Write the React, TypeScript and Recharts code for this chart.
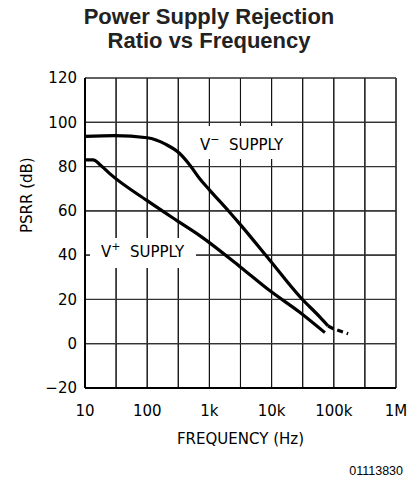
import React from 'react';
import { LineChart, Line, XAxis, YAxis, CartesianGrid } from 'recharts';

// grid lines every half decade, labels only on decades
const FREQ_TICKS = [10, 31.6, 100, 316, 1000, 3160, 10000, 31600, 100000, 316000, 1000000];
const FREQ_LABELS: Record<number, string> = { 10: '10', 100: '100', 1000: '1k', 10000: '10k', 100000: '100k', 1000000: '1M' };
const PSRR_TICKS = [-20, 0, 20, 40, 60, 80, 100, 120];

const VPLUS_FREQ = [10, 13.5, 18, 25, 100, 300, 700, 3100, 9300, 29000, 72000];
const VPLUS_PSRR = [83, 83, 80.5, 76.8, 64.6, 55.6, 48.8, 34.8, 24, 14, 5];

const VMINUS_FREQ = [10, 30, 100, 200, 330, 490, 700, 1000, 2100, 3100, 9300, 29000, 60000, 81000];
const VMINUS_PSRR = [93.6, 94, 93, 90, 86, 80.5, 74.5, 69.5, 59.5, 54, 37.8, 21, 12, 8];

// extrapolated part, drawn dashed
const VMINUS_EXT_FREQ = [81000, 98000, 170000];
const VMINUS_EXT_PSRR = [8, 6.8, 4.5];

// one table keyed by frequency, gaps left empty
function buildData() {
    const rows = new Map<number, any>();
    const put = (f: number[], v: number[], key: string) =>
        f.forEach((x, i) => {
            const r = rows.get(x) ?? { f: x };
            r[key] = v[i];
            rows.set(x, r);
        });
    put(VPLUS_FREQ, VPLUS_PSRR, 'vplus');
    put(VMINUS_FREQ, VMINUS_PSRR, 'vminus');
    put(VMINUS_EXT_FREQ, VMINUS_EXT_PSRR, 'vext');
    return [...rows.values()].sort((a, b) => a.f - b.f);
}

const data = buildData();
const FONT = 'DejaVu Sans';
const F_MIN = FREQ_TICKS[0];
const F_MAX = FREQ_TICKS[FREQ_TICKS.length - 1];
const P_MIN = PSRR_TICKS[0];
const P_MAX = PSRR_TICKS[PSRR_TICKS.length - 1];

// white box over the grid with the curve name in it
function SupplyBox({ left, top, width, height, padLeft, padTop, sign }: any) {
    return (
        <div
            style={{
                position: 'absolute', left, top, width, height, background: '#fff', boxSizing: 'border-box',
                paddingLeft: padLeft, paddingTop: padTop, fontFamily: FONT, fontSize: 15, lineHeight: '17px',
                color: '#000', whiteSpace: 'nowrap',
            }}
        >
            V<span style={{ position: 'relative', top: -7, fontSize: 11 }}>{sign}</span>{'\u00a0 SUPPLY'}
        </div>
    );
}

export default function App() {
    return (
        <div style={{ position: 'absolute', left: 0, top: 0, width: 412, height: 481, background: '#fff' }}>
            <div
                style={{
                    position: 'absolute', left: 0, top: 5, width: 418, textAlign: 'center',
                    fontFamily: 'Liberation Sans', fontWeight: 'bold', fontSize: 22, lineHeight: '24px', color: '#222',
                }}
            >
                Power Supply Rejection<br />Ratio vs Frequency
            </div>
            <LineChart width={412} height={481} data={data} margin={{ top: 78, right: 16, bottom: 33, left: 27 }}>
                <CartesianGrid stroke="#222" strokeWidth={1.1} />
                <XAxis
                    dataKey="f"
                    type="number"
                    scale="log"
                    domain={[F_MIN, F_MAX]}
                    ticks={FREQ_TICKS}
                    interval={0}
                    tickFormatter={(v: number) => FREQ_LABELS[v] ?? ''}
                    height={60}
                    axisLine={{ stroke: '#000', strokeWidth: 2 }}
                    tickLine={false}
                    tickSize={8}
                    tickMargin={9}
                    tick={{ fontFamily: FONT, fontSize: 15, fill: '#000' }}
                    label={{ value: 'FREQUENCY (Hz)', position: 'insideBottom', offset: 4, fontFamily: FONT, fontSize: 15, fill: '#000' }}
                />
                <YAxis
                    type="number"
                    domain={[P_MIN, P_MAX]}
                    ticks={PSRR_TICKS}
                    interval={0}
                    tickFormatter={(v: number) => String(v).replace('-', '\u2212')}
                    width={58}
                    axisLine={{ stroke: '#000', strokeWidth: 2 }}
                    tickLine={false}
                    tickSize={8}
                    tickMargin={0}
                    tick={{ fontFamily: FONT, fontSize: 15, fill: '#000' }}
                    label={{ value: 'PSRR (dB)', angle: -90, position: 'insideLeft', offset: 0, fontFamily: FONT, fontSize: 15, fill: '#000' }}
                />
                {/* grid drawn as thin series along the tick values */}
                {FREQ_TICKS.slice(1).map((t) => (
                    <Line key={'gv' + t} data={[{ f: t, g: P_MIN }, { f: t, g: P_MAX }]} dataKey="g" type="linear"
                        stroke="#111" strokeWidth={1} dot={false} activeDot={false} isAnimationActive={false} />
                ))}
                {PSRR_TICKS.slice(1).map((t) => (
                    <Line key={'gh' + t} data={[{ f: F_MIN, g: t }, { f: F_MAX, g: t }]} dataKey="g" type="linear"
                        stroke="#333" strokeWidth={1.2} dot={false} activeDot={false} isAnimationActive={false} />
                ))}
                <Line dataKey="vminus" type="monotone" connectNulls stroke="#000" strokeWidth={3.2} dot={false} isAnimationActive={false} />
                <Line dataKey="vext" type="linear" connectNulls stroke="#000" strokeWidth={3.2} strokeDasharray="6 4" dot={false} isAnimationActive={false} />
                <Line dataKey="vplus" type="monotone" connectNulls stroke="#000" strokeWidth={3.2} dot={false} isAnimationActive={false} />
            </LineChart>
            <SupplyBox left={197} top={126} width={93} height={33} padLeft={3} padTop={11} sign={'\u2212'} />
            <SupplyBox left={90} top={238} width={106} height={30} padLeft={11} padTop={6} sign="+" />
            <div style={{ position: 'absolute', right: 9, top: 464, fontFamily: 'Liberation Sans', fontSize: 12.5, color: '#000' }}>
                01113830
            </div>
        </div>
    );
}
